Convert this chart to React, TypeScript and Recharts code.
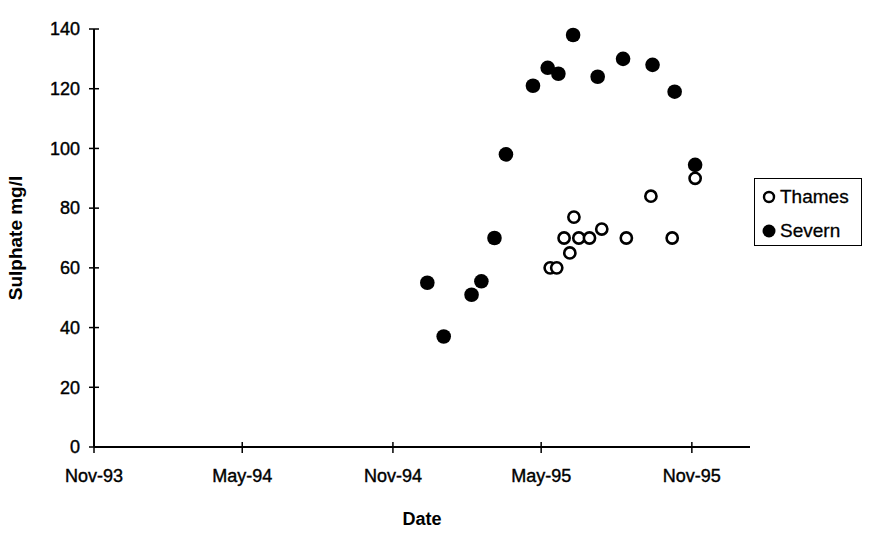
import React from 'react';
import { ScatterChart, Scatter, XAxis, YAxis, Legend } from 'recharts';

const thamesDates = ['1995-05-12', '1995-05-20', '1995-05-29', '1995-06-05', '1995-06-10', '1995-06-16', '1995-06-29', '1995-07-14', '1995-08-13', '1995-09-12', '1995-10-08', '1995-11-05'];
const thamesValues = [60, 60, 70, 65, 77, 70, 70, 73, 70, 84, 70, 90];

const severnDates = ['1994-12-13', '1995-01-02', '1995-02-05', '1995-02-17', '1995-03-05', '1995-03-19', '1995-04-21', '1995-05-09', '1995-05-22', '1995-06-09', '1995-07-09', '1995-08-09', '1995-09-14', '1995-10-11', '1995-11-05'];
const severnValues = [55, 37, 51, 55.5, 70, 98, 121, 127, 125, 138, 124, 130, 128, 119, 94.5];

const xTickDates = ['1993-11-01', '1994-05-01', '1994-11-01', '1995-05-01', '1995-11-01'];
const xTickLabels = ['Nov-93', 'May-94', 'Nov-94', 'May-95', 'Nov-95'];
const xDomainDates = ['1993-11-01', '1996-01-11'];
const yTicks = [0, 20, 40, 60, 80, 100, 120, 140];
const legendOrder = ['Thames', 'Severn'];

const toTime = (s: string) => {
  const [y, m, d] = s.split('-').map(Number);
  return Date.UTC(y, m - 1, d);
};

const thamesData = thamesDates.map((d, i) => ({ date: toTime(d), value: thamesValues[i] }));
const severnData = severnDates.map((d, i) => ({ date: toTime(d), value: severnValues[i] }));
const xTicks = xTickDates.map(toTime);
const xDomain = xDomainDates.map(toTime);

const FONT = '"Liberation Sans", Arial, Helvetica, sans-serif';
const Y_GAP = 14;
const X_GAP = 22;

const YTick = (props: any) => {
  const { x, y, payload } = props;
  const ax = x + Y_GAP;
  return (
    <g>
      <line x1={ax - 5} x2={ax + 5} y1={y} y2={y} stroke="#000" strokeWidth={1.5} />
      <text x={x} y={y} dy="0.35em" textAnchor="end" fontSize={18} fontFamily={FONT} fill="#000" stroke="#000" strokeWidth={0.4}>
        {payload.value}
      </text>
    </g>
  );
};

const XTick = (props: any) => {
  const { x, y, payload } = props;
  const ay = y - X_GAP;
  const idx = xTicks.indexOf(payload.value);
  return (
    <g>
      <line x1={x} x2={x} y1={ay - 5} y2={ay + 6} stroke="#000" strokeWidth={1.5} />
      <text x={x} y={y} dy="0.71em" textAnchor="middle" fontSize={18} fontFamily={FONT} fill="#000" stroke="#000" strokeWidth={0.4}>
        {idx >= 0 ? xTickLabels[idx] : ''}
      </text>
    </g>
  );
};

const FilledDot = (props: any) => {
  const { cx, cy } = props;
  return <circle cx={cx} cy={cy} r={7.3} fill="#000" />;
};

const OpenDot = (props: any) => {
  const { cx, cy } = props;
  return <circle cx={cx} cy={cy} r={5.6} fill="#fff" stroke="#000" strokeWidth={2.6} />;
};

const LegendBox = (props: any) => {
  const payload = [...(props.payload || [])].sort(
    (a: any, b: any) => legendOrder.indexOf(a.value) - legendOrder.indexOf(b.value)
  );
  return (
    <div
      style={{
        position: 'absolute',
        left: 0,
        top: 0,
        width: 108,
        height: 68,
        border: '1.5px solid #000',
        boxSizing: 'border-box',
        background: '#fff',
        fontFamily: FONT,
        fontSize: 19,
        color: '#000',
        WebkitTextStroke: '0.3px #000',
      }}
    >
      {payload.map((entry: any, i: number) => {
        const filled = entry.value === 'Severn';
        return (
          <div key={i} style={{ position: 'absolute', left: 6, top: 5 + i * 34, height: 26, display: 'flex', alignItems: 'center', whiteSpace: 'nowrap' }}>
            <svg width={16} height={16} style={{ marginRight: 3 }}>
              {filled ? (
                <circle cx={8} cy={8} r={6.5} fill="#000" />
              ) : (
                <circle cx={8} cy={8} r={5} fill="#fff" stroke="#000" strokeWidth={2.4} />
              )}
            </svg>
            <span>{entry.value}</span>
          </div>
        );
      })}
    </div>
  );
};

export default function App() {
  return (
    <div style={{ position: 'absolute', left: 0, top: 0, width: 869, height: 534, background: '#fff' }}>
      <ScatterChart width={869} height={534} margin={{ top: 29, right: 119, bottom: 0, left: 0 }}>
        <XAxis
          type="number"
          dataKey="date"
          domain={xDomain}
          ticks={xTicks}
          allowDataOverflow
          height={87}
          axisLine={{ stroke: '#000', strokeWidth: 2 }}
          tickLine={false}
          tickSize={0}
          tickMargin={X_GAP}
          tick={<XTick />}
          interval={0}
          label={{
            content: (p: any) => {
              const vb = p.viewBox || {};
              return (
                <text x={vb.x + vb.width / 2} y={vb.y + 72} dominantBaseline="central" textAnchor="middle" fontSize={18} fontWeight="bold" fontFamily={FONT} fill="#000">
                  Date
                </text>
              );
            },
          }}
        />
        <YAxis
          type="number"
          dataKey="value"
          domain={[0, 140]}
          ticks={yTicks}
          width={94}
          axisLine={{ stroke: '#000', strokeWidth: 2 }}
          tickLine={false}
          tickSize={0}
          tickMargin={Y_GAP}
          tick={<YTick />}
          interval={0}
          label={{
            content: (p: any) => {
              const vb = p.viewBox || {};
              const cx = 15;
              const cy = vb.y + vb.height / 2;
              return (
                <text x={cx} y={cy} transform={`rotate(-90 ${cx} ${cy})`} dominantBaseline="central" textAnchor="middle" fontSize={19} fontWeight="bold" fontFamily={FONT} fill="#000">
                  Sulphate mg/l
                </text>
              );
            },
          }}
        />
        <Legend
          layout="vertical"
          align="right"
          verticalAlign="top"
          content={<LegendBox />}
          wrapperStyle={{ position: 'absolute', left: 754, top: 178, width: 0, height: 0 }}
        />
        <Scatter name="Severn" data={severnData} shape={<FilledDot />} legendType="circle" fill="#000" isAnimationActive={false} />
        <Scatter name="Thames" data={thamesData} shape={<OpenDot />} legendType="circle" fill="#fff" isAnimationActive={false} />
      </ScatterChart>
    </div>
  );
}
